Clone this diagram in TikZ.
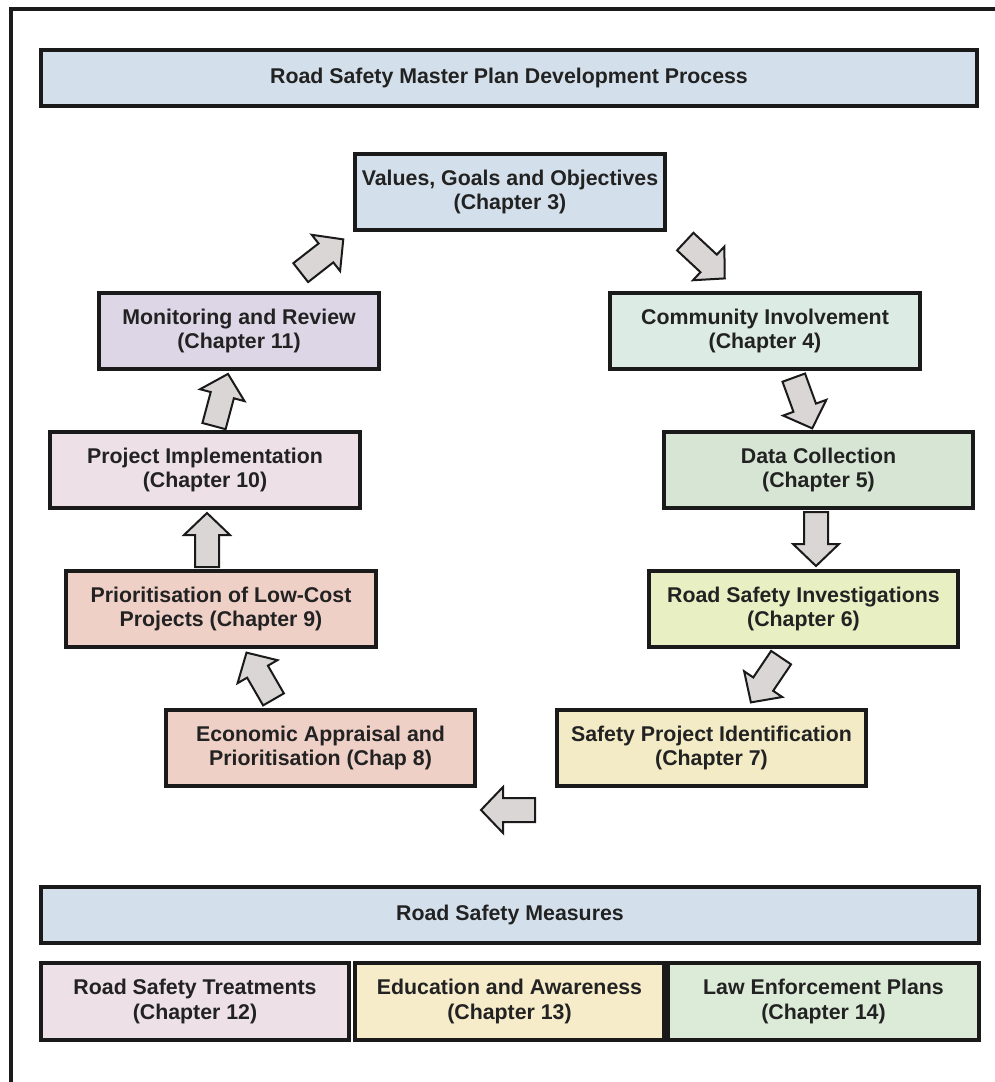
\documentclass[tikz,border=0pt]{standalone}
\usepackage{fontspec}
\setmainfont{Liberation Sans}
\definecolor{cBlue}{HTML}{D3E0EB}
\definecolor{cLav}{HTML}{DDD6E6}
\definecolor{cMint}{HTML}{DCEBE4}
\definecolor{cGreen}{HTML}{D7E6D4}
\definecolor{cPink}{HTML}{EDE0E7}
\definecolor{cSalmon}{HTML}{EFD0C7}
\definecolor{cLime}{HTML}{E8EFC3}
\definecolor{cYellow}{HTML}{F2EBC6}
\definecolor{cYellowB}{HTML}{F6ECCA}
\definecolor{cLawG}{HTML}{DCEBD7}
\definecolor{cArrow}{HTML}{DAD6D6}
\definecolor{cLine}{HTML}{1A1A1A}
\definecolor{cText}{HTML}{222222}
\tikzset{
  box/.style={draw=cLine, line width=2.6pt, align=center, inner sep=0pt,
    font=\fontsize{16}{18.5}\selectfont\bfseries, text=cText},
  barrow/.style={draw=cLine, fill=cArrow, line width=1.5pt, line join=miter}
}
\newcommand\blockarr[3]{%
  \begin{scope}[shift={(#1,#2)}, rotate=#3]
    \draw[barrow] (-27,-12) -- (5,-12) -- (5,-23) -- (27,0) -- (5,23) -- (5,12) -- (-27,12) -- cycle;
  \end{scope}}
\begin{document}
\begin{tikzpicture}[x=0.75pt, y=-0.75pt]
\useasboundingbox (0,0) rectangle (995,1082);
\fill[white] (0,0) rectangle (995,1082);
\draw[cLine, line width=2.6pt] (11,1082) -- (11,9) -- (995,9);

\node[box, fill=cBlue, minimum width=702pt, minimum height=42pt] (title) at (509,78) {Road Safety Master Plan Development Process};
\node[box, fill=cBlue, minimum width=232.5pt, minimum height=57pt] (val) at (510,192) {Values, Goals and Objectives\\(Chapter 3)};
\node[box, fill=cLav, minimum width=210pt, minimum height=57pt] (mon) at (239,331) {Monitoring and Review\\(Chapter 11)};
\node[box, fill=cMint, minimum width=232.5pt, minimum height=57pt] (com) at (765,331) {Community Involvement\\(Chapter 4)};
\node[box, fill=cPink, minimum width=232.5pt, minimum height=57pt] (imp) at (205,470) {Project Implementation\\(Chapter 10)};
\node[box, fill=cGreen, minimum width=231.75pt, minimum height=57pt] (dat) at (818.5,470) {Data Collection\\(Chapter 5)};
\node[box, fill=cSalmon, minimum width=232.5pt, minimum height=57pt] (pri) at (221,609) {Prioritisation of Low-Cost\\Projects (Chapter 9)};
\node[box, fill=cLime, minimum width=231.75pt, minimum height=57pt] (inv) at (803.5,609) {Road Safety Investigations\\(Chapter 6)};
\node[box, fill=cSalmon, minimum width=231.75pt, minimum height=57pt] (eco) at (320.5,748) {Economic Appraisal and\\Prioritisation (Chap 8)};
\node[box, fill=cYellow, minimum width=231.75pt, minimum height=57pt] (saf) at (711.5,748) {Safety Project Identification\\(Chapter 7)};

\node[box, fill=cBlue, minimum width=703.5pt, minimum height=42pt] (mea) at (510,915) {Road Safety Measures};
\node[box, fill=cPink, minimum width=231pt, minimum height=57.75pt] (rst) at (195,1001.5) {Road Safety Treatments\\(Chapter 12)};
\node[box, fill=cYellowB, minimum width=231.75pt, minimum height=57.75pt] (edu) at (509.5,1001.5) {Education and Awareness\\(Chapter 13)};
\node[box, fill=cLawG, minimum width=233.25pt, minimum height=57.75pt] (law) at (823.5,1001.5) {Law Enforcement Plans\\(Chapter 14)};

\blockarr{322}{256}{38}
\blockarr{705}{260}{-43}
\blockarr{803}{403}{-70}
\blockarr{816}{539}{-90}
\blockarr{766}{680}{-124}
\blockarr{508}{810}{180}
\blockarr{260}{676}{120}
\blockarr{207}{540}{90}
\blockarr{221}{400}{75}
\end{tikzpicture}
\end{document}
